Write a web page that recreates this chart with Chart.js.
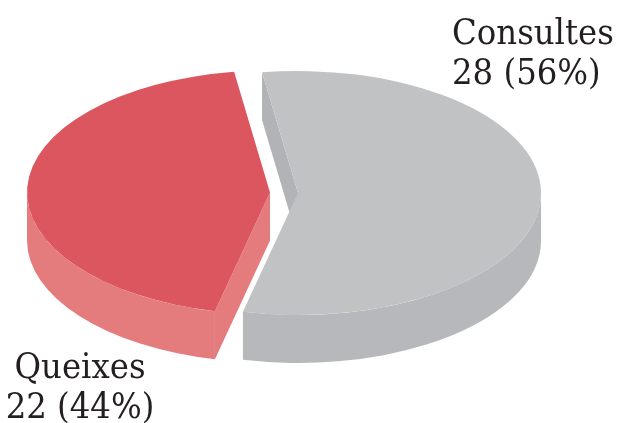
<!DOCTYPE html>
<html>
<head>
<meta charset="utf-8">
<script src="https://cdn.jsdelivr.net/npm/chart.js@4.4.0/dist/chart.umd.min.js"></script>
<style>
  html, body { margin: 0; padding: 0; background: #fff; }
  #wrap { position: relative; width: 621px; height: 423px; }
</style>
</head>
<body>
<div id="wrap"><canvas id="pieChart"></canvas></div>
<script>
// data
const categories = ['Consultes', 'Queixes'];
const counts = [28, 22];

// styles
const topColors = ['#c1c2c4', '#dc5660'];
const sideColors = ['#b7b8bb', '#e47c7e'];
const faceColors = ['#b2b3b6', '#e47c7e'];
const EXPLODE = [0, 28];     // px each slice is pulled out along its middle
const RADIUS = 243;          // horizontal radius in px
const SQUASH = 122 / 243;    // vertical / horizontal
const DEPTH = 48;            // thickness of the disc in px
const LABEL_FONT = '36px "DejaVu Serif Condensed", "DejaVu Serif", serif';
const LINE_GAP = 40;
const labelPos = [
  { x: 452, y: 44, align: 'left' },
  { x: 80, y: 378, align: 'center' }
];

// pulls slices out, draws side walls + cut faces, then squashes the pie tops
const pie3d = {
  id: 'pie3d',
  beforeDatasetsDraw(chart) {
    const ctx = chart.ctx;
    const arcs = chart.getDatasetMeta(0).data;
    ctx.save();
    if (!arcs.length) return;
    const x0 = arcs[0].x, y0 = arcs[0].y;
    const h = DEPTH / SQUASH;
    ctx.translate(x0, y0);
    ctx.scale(1, SQUASH);
    ctx.translate(-x0, -y0);

    // move exploded slices (undone in afterDatasetsDraw)
    chart.$shifts = arcs.map((arc, i) => {
      const mid = (arc.startAngle + arc.endAngle) / 2;
      const dx = Math.cos(mid) * (EXPLODE[i] || 0);
      const dy = Math.sin(mid) * (EXPLODE[i] || 0);
      arc.x += dx;
      arc.y += dy;
      return [dx, dy];
    });

    const geo = arcs.map(arc => ({
      cx: arc.x, cy: arc.y, r: arc.outerRadius, s: arc.startAngle, e: arc.endAngle
    }));

    // radial cut faces that look toward the viewer
    geo.forEach((g, i) => {
      [[g.s, -Math.cos(g.s)], [g.e, Math.cos(g.e)]].forEach(([a, facing]) => {
        if (facing <= 0) return;
        const px = g.cx + g.r * Math.cos(a), py = g.cy + g.r * Math.sin(a);
        ctx.beginPath();
        ctx.moveTo(g.cx, g.cy);
        ctx.lineTo(px, py);
        ctx.lineTo(px, py + h);
        ctx.lineTo(g.cx, g.cy + h);
        ctx.closePath();
        ctx.fillStyle = faceColors[i];
        ctx.fill();
      });
    });

    // outer walls, front half only
    geo.forEach((g, i) => {
      for (let k = -1; k <= 2; k++) {
        const a = Math.max(g.s, 2 * Math.PI * k);
        const b = Math.min(g.e, 2 * Math.PI * k + Math.PI);
        if (b <= a) continue;
        ctx.beginPath();
        ctx.arc(g.cx, g.cy, g.r, a, b, false);
        ctx.lineTo(g.cx + g.r * Math.cos(b), g.cy + h + g.r * Math.sin(b));
        ctx.arc(g.cx, g.cy + h, g.r, b, a, true);
        ctx.closePath();
        ctx.fillStyle = sideColors[i];
        ctx.fill();
      }
    });
  },
  afterDatasetsDraw(chart) {
    const arcs = chart.getDatasetMeta(0).data;
    (chart.$shifts || []).forEach(([dx, dy], i) => {
      arcs[i].x -= dx;
      arcs[i].y -= dy;
    });
    chart.$shifts = null;
    chart.ctx.restore();
  }
};

const sliceLabels = {
  id: 'sliceLabels',
  afterDraw(chart) {
    const ctx = chart.ctx;
    const total = counts.reduce((a, b) => a + b, 0);
    ctx.save();
    ctx.font = LABEL_FONT;
    ctx.fillStyle = '#231f20';
    ctx.textBaseline = 'alphabetic';
    categories.forEach((name, i) => {
      const pos = labelPos[i];
      ctx.textAlign = pos.align;
      ctx.fillText(name, pos.x, pos.y);
      ctx.fillText(`${counts[i]} (${Math.round(counts[i] / total * 100)}%)`, pos.x, pos.y + LINE_GAP);
    });
    ctx.restore();
  }
};

new Chart(document.getElementById('pieChart'), {
  type: 'pie',
  data: {
    labels: categories,
    datasets: [{
      data: counts,
      backgroundColor: topColors,
      borderWidth: 0,
      clip: false
    }]
  },
  options: {
    responsive: true,
    maintainAspectRatio: false,
    animation: false,
    rotation: -8.5,
    radius: RADIUS,
    layout: { padding: { left: 0, right: 25, top: 0, bottom: 37 } },
    events: [],
    plugins: {
      legend: { display: false },
      tooltip: { enabled: false }
    }
  },
  plugins: [pie3d, sliceLabels]
});
</script>
</body>
</html>
